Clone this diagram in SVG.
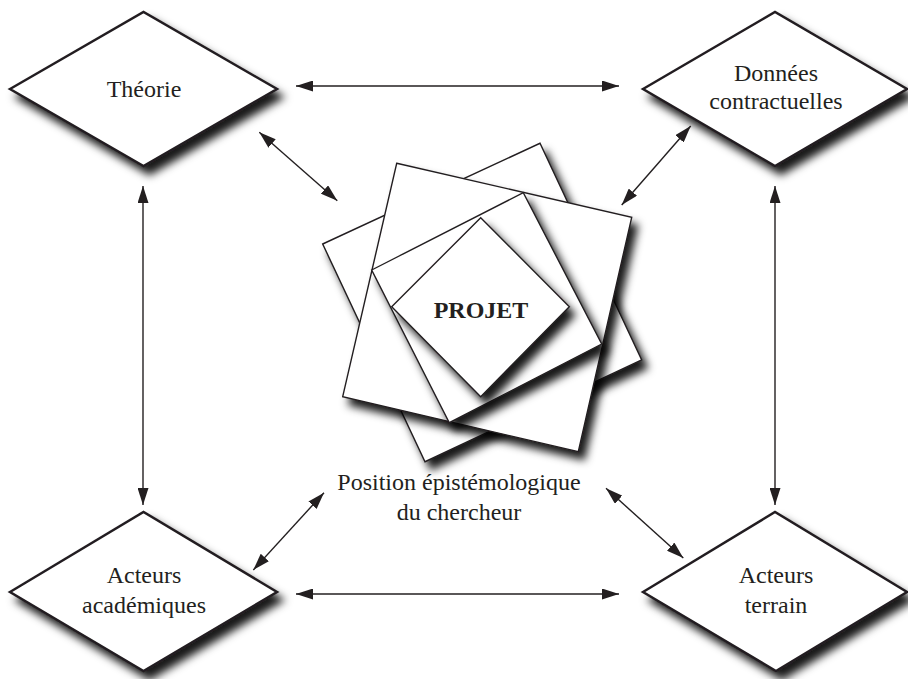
<svg xmlns="http://www.w3.org/2000/svg" width="908" height="679" viewBox="0 0 908 679">
<defs>
<filter id="sh" x="-20%" y="-20%" width="150%" height="150%">
<feDropShadow dx="6" dy="8" stdDeviation="4.5" flood-color="#000" flood-opacity="0.9"/>
</filter>
<marker id="ah" viewBox="0 0 17 11" refX="17" refY="5.5" markerWidth="17" markerHeight="11" markerUnits="userSpaceOnUse" orient="auto-start-reverse">
<path d="M0,0 L17,5.5 L0,11 z" fill="#231f20"/>
</marker>
<style>
.dia{fill:#fff;stroke:#231f20;stroke-width:2.5;stroke-linejoin:miter;filter:url(#sh)}
.sq{fill:#fff;stroke:#231f20;stroke-width:1.4;filter:url(#sh)}
.lbl{font-family:"Liberation Serif","Times New Roman",serif;font-size:24px;fill:#231f20;text-anchor:middle}
.bold{font-weight:bold}
.con line{stroke:#231f20;stroke-width:1.4;marker-start:url(#ah);marker-end:url(#ah)}
</style>
</defs>
<rect width="908" height="679" fill="#fff"/>
<g id="theorie">
<polygon class="dia" points="10,89 143.5,12 277,89 143.5,166"/>
<text class="lbl" x="144" y="97">Théorie</text>
</g>
<g id="donnees">
<polygon class="dia" points="643,89 775,12 907,89 775,166"/>
<text class="lbl" x="776" y="81">Données</text>
<text class="lbl" x="776" y="108.5">contractuelles</text>
</g>
<g id="acteurs-academiques">
<polygon class="dia" points="10,592 143.5,512 277,592 143.5,671"/>
<text class="lbl" x="144" y="583">Acteurs</text>
<text class="lbl" x="144" y="613">académiques</text>
</g>
<g id="acteurs-terrain">
<polygon class="dia" points="643,592 775,512 907,592 776,671"/>
<text class="lbl" x="776" y="583">Acteurs</text>
<text class="lbl" x="776" y="613">terrain</text>
</g>
<g id="projet">
<polygon class="sq" points="322.7,244 540,143.3 641.7,360 425,461.7"/>
<polygon class="sq" points="396.7,163.3 631.7,217.3 578.3,451.7 342.7,396.7"/>
<polygon class="sq" points="371.7,270 523.3,192.7 601.7,344 449.3,422.7"/>
<polygon class="sq" points="480.7,217.7 569.3,306.7 480.7,396.7 391.7,306.7"/>
<text class="lbl bold" x="481" y="317.5">PROJET</text>
</g>
<g id="position">
<text class="lbl" x="459" y="490">Position épistémologique</text>
<text class="lbl" x="459" y="520">du chercheur</text>
</g>
<g id="connectors" class="con">
<line x1="296" y1="86" x2="619" y2="86"/>
<line x1="296" y1="594" x2="619" y2="594"/>
<line x1="143" y1="186" x2="143" y2="505"/>
<line x1="775" y1="186" x2="775" y2="505"/>
<line x1="259.3" y1="132.3" x2="337.3" y2="200.7"/>
<line x1="690.7" y1="126" x2="621.7" y2="205"/>
<line x1="324" y1="492.7" x2="253.3" y2="570"/>
<line x1="606" y1="488.3" x2="683.3" y2="558"/>
</g>
</svg>
